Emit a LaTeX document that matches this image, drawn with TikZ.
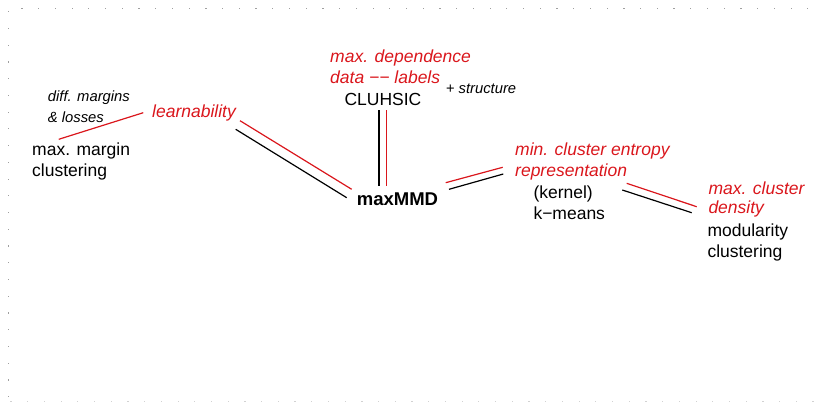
\documentclass[tikz,border=0pt]{standalone}
\usepackage{fontspec}
\setmainfont{Liberation Sans}
\definecolor{lred}{RGB}{218,22,28}
\begin{document}
\begin{tikzpicture}[x=1pt,y=-1pt,
  lbl/.style={anchor=base west,inner sep=0pt,font=\fontsize{17.5}{21}\selectfont},
  rlbl/.style={anchor=base west,inner sep=0pt,text=lred,font=\fontsize{17.5}{21}\selectfont\itshape},
  sm/.style={anchor=base west,inner sep=0pt,font=\fontsize{14.8}{18}\selectfont\itshape},
  rl/.style={draw=lred,line width=1.2pt},
  bl/.style={draw=black,line width=1.2pt},
  dotmark/.style={fill=gray!75,draw=none},
  faintdot/.style={fill=gray!35,draw=none}]
\useasboundingbox (0,0) rectangle (817,402);
% dotted frame
\foreach \i in {0,...,47} \fill[dotmark] ({22+16.72*\i-0.6},7.7) rectangle +(1.2,1.2);
\foreach \i in {0,...,23} \fill[dotmark] (7.7,{11.7+16.74*\i-0.6}) rectangle +(1.2,1.2);
\foreach \i in {0,...,48} \fill[faintdot] ({11+16.71*\i-0.6},400.6) rectangle +(1.2,1.2);

% labels
\node[sm] (dm) at (47.7,101) {diff. margins};
\node[sm] (dl) at (47.7,122.7) {\& losses};
\node[rlbl] (learn) at (152,117.3) {learnability};
\node[lbl] (mm1) at (32,155.7) {max. margin};
\node[lbl] (mm2) at (32,176.7) {clustering};

\node[rlbl] (dep1) at (330,62.3) {max. dependence};
\node[rlbl] (dep2) at (330,83.3) {data −− labels};
\node[lbl] (hsic) at (344.3,105) {CLUHSIC};
\node[sm] (struct) at (445.7,93.3) {+ structure};

\node[lbl,font=\fontsize{18.5}{22}\selectfont\bfseries] (mmd) at (356.7,205.7) {maxMMD};

\node[rlbl] (ent1) at (515,155) {min. cluster entropy};
\node[rlbl] (ent2) at (515,176) {representation};
\node[lbl] (km1) at (533.3,198.3) {(kernel)};
\node[lbl] (km2) at (533.3,219.3) {k−means};

\node[rlbl] (dens1) at (708.3,194) {max. cluster};
\node[rlbl] (dens2) at (708.3,213.5) {density};
\node[lbl] (mod1) at (707.3,236) {modularity};
\node[lbl] (mod2) at (707.3,257.3) {clustering};

% connector end points
\coordinate (a1) at (58.7,139.3);   \coordinate (a2) at (143.3,112.7);
\coordinate (b1) at (240,120.7);    \coordinate (b2) at (351.7,189.3);
\coordinate (c1) at (235.7,129.3);  \coordinate (c2) at (346.7,197.7);
\coordinate (d1) at (379,110);      \coordinate (d2) at (379,185.7);
\coordinate (e1) at (386.7,110);    \coordinate (e2) at (386.7,185.7);
\coordinate (f1) at (445.7,182.7);  \coordinate (f2) at (502.7,167.3);
\coordinate (g1) at (449,189.3);    \coordinate (g2) at (503.3,174);
\coordinate (h1) at (626.7,183.3);  \coordinate (h2) at (696.7,206.7);
\coordinate (k1) at (622.3,190);    \coordinate (k2) at (691.7,212.7);

\draw[rl] (a1) -- (a2);
\draw[rl] (b1) -- (b2);
\draw[bl] (c1) -- (c2);
\draw[bl] (d1) -- (d2);
\draw[rl] (e1) -- (e2);
\draw[rl] (f1) -- (f2);
\draw[bl] (g1) -- (g2);
\draw[rl] (h1) -- (h2);
\draw[bl] (k1) -- (k2);
\end{tikzpicture}
\end{document}
